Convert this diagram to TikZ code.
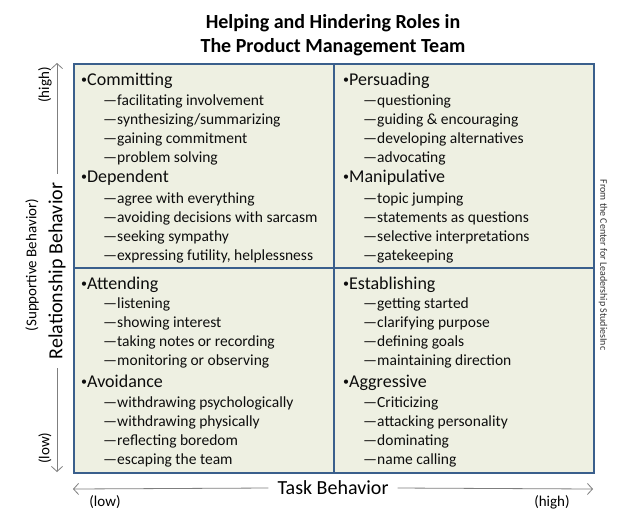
\documentclass[tikz,border=0pt]{standalone}
\usepackage{fontspec}
\setmainfont{Carlito}
\usetikzlibrary{arrows.meta}
\definecolor{qfill}{HTML}{EEF0E2}
\definecolor{qborder}{HTML}{3A5F8C}
\definecolor{axisgray}{HTML}{7F7F7F}
\newcommand{\smallbul}{\raisebox{1.3pt}{\fontsize{12}{12}\selectfont •}}
\begin{document}
\begin{tikzpicture}[x=1pt,y=-1pt,
  quad/.style={draw=qborder, line width=1.7pt, fill=qfill, inner sep=0pt, anchor=north west},
  head/.style={anchor=base west, inner sep=0pt, text=black!95, font=\fontsize{18}{20}\selectfont},
  item/.style={anchor=base west, inner sep=0pt, text=black!95, font=\fontsize{15.5}{18}\selectfont},
  axisline/.style={draw=axisgray, line width=0.8pt},
  axisarrow/.style={axisline, -{Straight Barb[length=5pt,width=11pt]}},
  axislabel/.style={inner sep=0pt, inner xsep=9pt, font=\fontsize{20}{22}\selectfont},
  small/.style={inner sep=0pt, font=\fontsize{15}{17}\selectfont},
  titletext/.style={anchor=base, inner sep=0pt, font=\fontsize{20}{22}\selectfont\bfseries}
]
\useasboundingbox (0,0) rectangle (626,523);
\fill[white] (0,0) rectangle (626,523);

% title
\node[titletext] (t1) at (333,28) {Helping and Hindering Roles in};
\node[titletext] (t2) at (333,52) {The Product Management Team};

% quadrants
\node[quad, minimum width=260pt, minimum height=204pt] (q1) at (73,63) {};
\node[quad, minimum width=260pt, minimum height=204pt] (q2) at (333,63) {};
\node[quad, minimum width=260pt, minimum height=205pt] (q3) at (73,267) {};
\node[quad, minimum width=260pt, minimum height=205pt] (q4) at (333,267) {};

% top-left
\node[head] (h1) at (81,85) {\smallbul Committing};
\foreach \t [count=\i] in {facilitating involvement, synthesizing/summarizing, gaining commitment, problem solving}
  \node[item] (a\i) at (103,{105+19*(\i-1)}) {—\t};
\node[head] (h2) at (81,182) {\smallbul Dependent};
\foreach \t [count=\i] in {agree with everything, avoiding decisions with sarcasm, seeking sympathy, {expressing futility, helplessness}}
  \node[item] (b\i) at (103,{203+19*(\i-1)}) {—\t};

% top-right
\node[head] (h3) at (343,85) {\smallbul Persuading};
\foreach \t [count=\i] in {questioning, guiding \& encouraging, developing alternatives, advocating}
  \node[item] (c\i) at (363,{105+19*(\i-1)}) {—\t};
\node[head] (h4) at (343,182) {\smallbul Manipulative};
\foreach \t [count=\i] in {topic jumping, statements as questions, selective interpretations, gatekeeping}
  \node[item] (d\i) at (363,{203+19*(\i-1)}) {—\t};

% bottom-left
\node[head] (h5) at (81,289) {\smallbul Attending};
\foreach \t [count=\i] in {listening, showing interest, taking notes or recording, monitoring or observing}
  \node[item] (e\i) at (103,{308+19*(\i-1)}) {—\t};
\node[head] (h6) at (81,387) {\smallbul Avoidance};
\foreach \t [count=\i] in {withdrawing psychologically, withdrawing physically, reflecting boredom, escaping the team}
  \node[item] (f\i) at (103,{407+19*(\i-1)}) {—\t};

% bottom-right
\node[head] (h7) at (343,289) {\smallbul Establishing};
\foreach \t [count=\i] in {getting started, clarifying purpose, defining goals, maintaining direction}
  \node[item] (g\i) at (363,{308+19*(\i-1)}) {—\t};
\node[head] (h8) at (343,387) {\smallbul Aggressive};
\foreach \t [count=\i] in {Criticizing, attacking personality, dominating, name calling}
  \node[item] (k\i) at (363,{407+19*(\i-1)}) {—\t};

% vertical axis
\coordinate (ytop) at (57,63);
\coordinate (ybot) at (57,472);
\node[axislabel, rotate=90] (rb) at (57,271) {Relationship Behavior};
\draw[axisarrow] (rb.east) -- (ytop);
\draw[axisarrow] (rb.west) -- (ybot);
\node[small, rotate=90] (yhigh) at (45,85) {(high)};
\node[small, rotate=90] (ylow) at (45,448) {(low)};
\node[small, rotate=90] (supp) at (32,265) {(Supportive Behavior)};

% horizontal axis
\coordinate (xleft) at (73,489);
\coordinate (xright) at (593,489);
\node[axislabel] (tb) at (333,488) {Task Behavior};
\draw[axisarrow] (tb.west) -- (xleft);
\draw[axisarrow] (tb.east) -- (xright);
\node[small] (xlow) at (105,502) {(low)};
\node[small] (xhigh) at (552,502) {(high)};

% credit
\node[inner sep=0pt, rotate=-90, text=black!80, font=\fontsize{10}{12}\selectfont] (credit) at (603,265) {From the Center for Leadership StudiesInc};
\end{tikzpicture}
\end{document}
